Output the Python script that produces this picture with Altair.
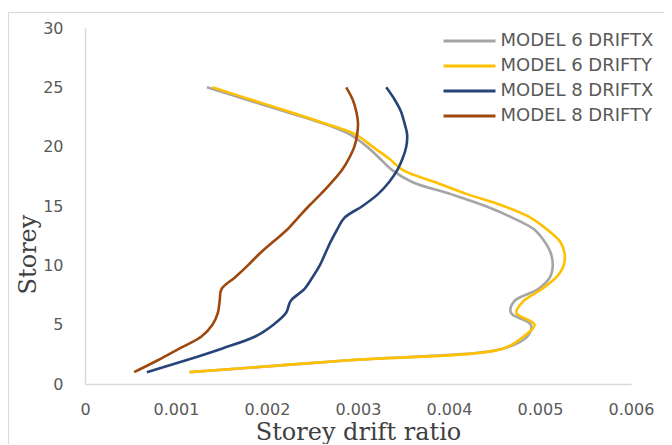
import altair as alt
import pandas as pd

storeys = list(range(1, 26))
series_names = ["MODEL 6 DRIFTX", "MODEL 6 DRIFTY", "MODEL 8 DRIFTX", "MODEL 8 DRIFTY"]
series_colors = ["#A5A5A5", "#FFC000", "#264478", "#9E480E"]

m6_driftx = [0.00115, 0.0029, 0.0046, 0.00486, 0.0049, 0.00468, 0.00472, 0.00498, 0.00511, 0.00514,
             0.00512, 0.00505, 0.00494, 0.0047, 0.0044, 0.00402, 0.0036, 0.00338, 0.00324, 0.0031,
             0.00292, 0.0026, 0.00218, 0.00176, 0.00134]
m6_drifty = [0.00115, 0.0029, 0.0046, 0.00482, 0.00494, 0.00474, 0.00482, 0.00502, 0.00518, 0.00526,
             0.00527, 0.00522, 0.00508, 0.0049, 0.0046, 0.0042, 0.00385, 0.0035, 0.00334, 0.00316,
             0.00298, 0.00262, 0.00222, 0.00181, 0.0014]
m8_driftx = [0.00068, 0.00111, 0.00151, 0.00187, 0.00207, 0.00221, 0.00226, 0.00241, 0.0025, 0.00258,
             0.00264, 0.0027, 0.00277, 0.00285, 0.00305, 0.00322, 0.00334, 0.00343, 0.00349, 0.00353,
             0.00354, 0.00351, 0.00347, 0.0034, 0.00331]
m8_drifty = [0.00054, 0.0008, 0.00104, 0.00128, 0.0014, 0.00146, 0.00148, 0.0015, 0.00165, 0.00179,
             0.00192, 0.00207, 0.00222, 0.00234, 0.00246, 0.00259, 0.00271, 0.00282, 0.0029, 0.00296,
             0.00299, 0.003, 0.00298, 0.00294, 0.00287]

x_ticks = [0, 0.001, 0.002, 0.003, 0.004, 0.005, 0.006]
y_ticks = [0, 5, 10, 15, 20, 25, 30]

rows = []
for name, vals in zip(series_names, [m6_driftx, m6_drifty, m8_driftx, m8_drifty]):
    for s, v in zip(storeys, vals):
        rows.append({"series": name, "storey": s, "drift": v})
df = pd.DataFrame(rows)

lines = alt.Chart(df).mark_line(strokeWidth=2.6, interpolate="catmull-rom").encode(
    x=alt.X("drift:Q", scale=alt.Scale(domain=[0, 0.006], nice=False),
            axis=alt.Axis(values=x_ticks, format="~g", title="Storey drift ratio",
                          labelFlush=False, titleY=55, titleBaseline="alphabetic")),
    y=alt.Y("storey:Q", scale=alt.Scale(domain=[0, 30], nice=False),
            axis=alt.Axis(values=y_ticks, title="Storey", titleX=-50, titleY=226,
                          labelFlush=False, titleBaseline="alphabetic", titleAngle=-90)),
    color=alt.Color("series:N", scale=alt.Scale(domain=series_names, range=series_colors),
                    legend=alt.Legend(title=None, orient="none", legendX=375.5, legendY=4,
                                      symbolType="M-4,0H4", symbolSize=169, symbolStrokeWidth=3,
                                      labelOffset=22, labelFontSize=18, labelFont="DejaVu Sans",
                                      labelColor="#595959", rowPadding=7, padding=0)),
    order=alt.Order("storey:Q"),
)

border = alt.Chart(pd.DataFrame({"a": [0]})).mark_rect(fill=None, stroke="#D9D9D9", strokeWidth=1).encode(
    x=alt.value(-76.5), x2=alt.value(700), y=alt.value(-15.5), y2=alt.value(600)
)

chart = alt.layer(border, lines).properties(
    width=546, height=356,
    autosize=alt.AutoSizeParams(type="none"),
    padding={"left": 77, "top": 20, "right": 33, "bottom": 60},
).configure_view(stroke=None).configure_axis(
    grid=False, ticks=False, domainColor="#D9D9D9", domainWidth=1.5,
    labelFont="DejaVu Sans", labelFontSize=16, labelColor="#595959",
    titleFont="DejaVu Serif", titleFontSize=24, titleColor="#404040", titleFontWeight="normal",
).configure_axisY(labelPadding=22).configure_axisX(labelPadding=17)

chart.save("out.html", embed_options={"renderer": "svg", "actions": False})
